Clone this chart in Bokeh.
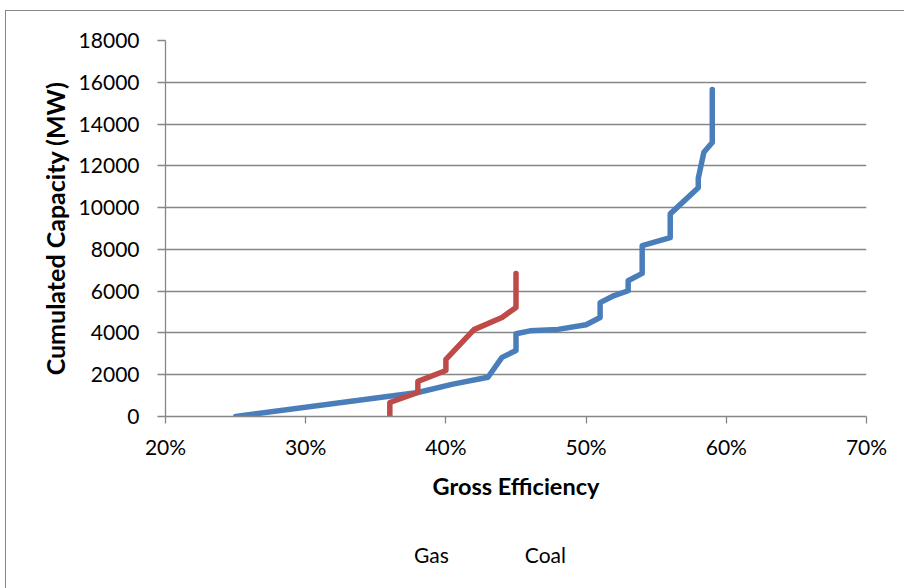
from bokeh.plotting import figure
from bokeh.layouts import column
from bokeh.models import (Range1d, SingleIntervalTicker, PrintfTickFormatter,
                          Legend, LegendItem, ColumnDataSource)
from bokeh.embed import file_html
from bokeh.resources import INLINE

# ---- data ----
gas_eff = [25, 38, 40.5, 43, 44, 45, 45, 46, 48, 50, 51, 51, 52, 53, 53,
           54, 54, 56, 56, 58, 58, 58.4, 59, 59]
gas_cap = [0, 1150, 1550, 1880, 2830, 3160, 3960, 4100, 4170, 4390, 4740,
           5450, 5790, 6020, 6500, 6850, 8180, 8560, 9700, 10950, 11400,
           12650, 13120, 15650]
coal_eff = [36, 36, 38, 38, 40, 40, 42, 44, 45, 45]
coal_cap = [0, 670, 1150, 1680, 2200, 2730, 4160, 4740, 5220, 6850]

x_title = "Gross Efficiency"
y_title = "Cumulated Capacity (MW)"
series_names = ["Gas", "Coal"]

FONT = "Lato"
GRID = "#868686"
BLUE = "#4A7EBB"
RED = "#BE4B48"

# ---------------- main chart ----------------
p = figure(frame_width=701, frame_height=376,
           output_backend="svg", toolbar_location=None,
           x_range=Range1d(20, 70), y_range=Range1d(0, 18000),
           min_border_left=159, min_border_right=38,
           min_border_top=29, min_border_bottom=100)
p.outline_line_color = None
p.background_fill_color = "white"
p.border_fill_color = "white"

gas_src = ColumnDataSource(dict(x=gas_eff, y=gas_cap))
coal_src = ColumnDataSource(dict(x=coal_eff, y=coal_cap))
p.line("x", "y", source=gas_src, line_color=BLUE, line_width=5.5,
       line_join="round", line_cap="round")
p.line("x", "y", source=coal_src, line_color=RED, line_width=5.5,
       line_join="round", line_cap="round")

xa = p.xaxis[0]
ya = p.yaxis[0]
xa.ticker = SingleIntervalTicker(interval=10)
ya.ticker = SingleIntervalTicker(interval=2000)
xa.formatter = PrintfTickFormatter(format="%d%%")
for ax in (xa, ya):
    ax.axis_line_color = GRID
    ax.axis_line_width = 1.3
    ax.major_tick_line_color = GRID
    ax.major_tick_line_width = 1.3
    ax.major_tick_in = 0
    ax.minor_tick_line_color = None
    ax.major_label_text_font = FONT
    ax.major_label_text_font_size = "21px"
    ax.major_label_text_color = "black"
    ax.axis_label_text_font = FONT
    ax.axis_label_text_font_style = "bold"
    ax.axis_label_text_color = "black"
xa.axis_label_text_font_size = "23.5px"
ya.axis_label_text_font_size = "25px"
xa.major_tick_out = 7
ya.major_tick_out = 8
xa.major_label_standoff = 10
ya.major_label_standoff = 18
xa.axis_label = x_title
ya.axis_label = y_title
xa.axis_label_standoff = 10
ya.axis_label_standoff = 6

p.xgrid.grid_line_color = None
p.ygrid.grid_line_color = GRID
p.ygrid.grid_line_width = 1.3

# ---------------- legend strip below the chart ----------------
lg = figure(frame_width=701, frame_height=72, title=None,
            output_backend="svg", toolbar_location=None,
            x_axis_location=None, y_axis_location=None,
            x_range=Range1d(0, 1), y_range=Range1d(0, 1),
            min_border_left=159, min_border_right=38,
            min_border_top=0, min_border_bottom=0)
lg.outline_line_color = None
lg.background_fill_color = "white"
lg.border_fill_color = "white"
lg.xgrid.grid_line_color = None
lg.ygrid.grid_line_color = None
lg_gas = lg.line(x=[], y=[], line_color=BLUE, line_width=5.5, line_cap="round")
lg_coal = lg.line(x=[], y=[], line_color=RED, line_width=5.5, line_cap="round")

legend = Legend(items=[LegendItem(label=series_names[0], renderers=[lg_gas]),
                       LegendItem(label=series_names[1], renderers=[lg_coal])],
                location=(193, 21), orientation="horizontal",
                border_line_color=None, background_fill_alpha=0,
                padding=0, margin=0, spacing=20,
                glyph_width=52, glyph_height=20, label_standoff=4,
                label_text_font=FONT, label_text_font_size="21px",
                label_text_color="black")
lg.add_layout(legend, "center")

layout = column(p, lg, margin=(11, 0, 0, 6))
layout.styles = {"outline": "1.5px solid #868686", "outline-offset": "0px"}

open("out.html", "w").write(file_html(layout, INLINE))
